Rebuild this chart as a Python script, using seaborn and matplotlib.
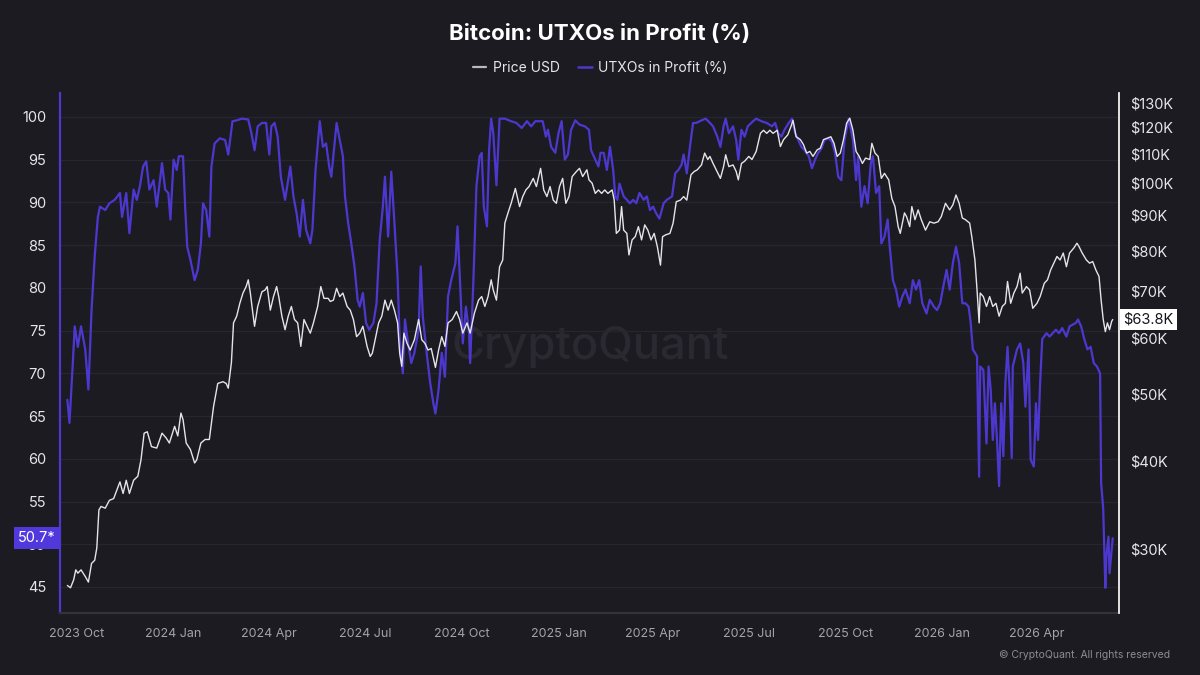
import numpy as np
import pandas as pd
import matplotlib
matplotlib.use("Agg")
import matplotlib.pyplot as plt
import matplotlib.dates as mdates
import matplotlib.transforms as mtransforms
from matplotlib.lines import Line2D
from matplotlib.ticker import FixedLocator, FixedFormatter, NullLocator
import seaborn as sns

# ---------------- data ----------------
START = "2023-10-01"  # day 0 for the offsets below

utxo_days = [
    -9, -7, -4, -2, 1, 4, 8, 11, 14, 17,
    20, 22, 27, 31, 36, 41, 43, 47, 50, 54,
    57, 60, 63, 66, 69, 73, 76, 81, 84, 87,
    89, 92, 95, 97, 101, 103, 105, 108, 112, 115,
    118, 120, 123, 126, 128, 131, 136, 141, 144, 148,
    152, 157, 163, 166, 169, 172, 176, 180, 183, 185,
    188, 191, 194, 198, 203, 206, 209, 212, 215, 218,
    222, 224, 227, 231, 234, 237, 240, 242, 247, 250,
    253, 255, 258, 261, 264, 267, 269, 272, 275, 278,
    282, 285, 288, 291, 293, 296, 299, 302, 305, 307,
    310, 312, 315, 318, 321, 325, 327, 329, 333, 336,
    339, 341, 344, 347, 350, 353, 356, 360, 362, 364,
    367, 370, 373, 374, 377, 380, 383, 385, 387, 390,
    392, 394, 396, 399, 402, 407, 413, 418, 423, 428,
    432, 436, 439, 443, 446, 448, 451, 455, 458, 461,
    464, 467, 470, 474, 478, 483, 487, 489, 493, 496,
    498, 501, 504, 507, 510, 512, 514, 516, 520, 523,
    526, 529, 532, 535, 539, 542, 545, 548, 551, 554,
    558, 561, 566, 569, 572, 575, 577, 580, 583, 586,
    589, 594, 598, 602, 605, 609, 612, 615, 617, 620,
    624, 627, 629, 632, 635, 638, 643, 646, 651, 656,
    661, 664, 667, 670, 673, 677, 680, 683, 686, 689,
    692, 696, 699, 702, 705, 708, 711, 715, 718, 721,
    724, 727, 730, 734, 738, 741, 743, 746, 749, 752,
    755, 757, 760, 763, 765, 768, 771, 773, 776, 779,
    782, 785, 788, 792, 795, 798, 801, 804, 808, 811,
    815, 818, 821, 824, 827, 830, 833, 836, 839, 842,
    845, 848, 850, 852, 856, 858, 859, 862, 865, 867,
    869, 871, 873, 875, 877, 879, 881, 883, 885, 887,
    889, 890, 894, 897, 900, 902, 905, 907, 910, 912,
    914, 916, 918, 922, 925, 928, 931, 934, 937, 941,
    944, 947, 950, 952, 955, 958, 961, 964, 967, 970,
    973, 974, 976, 978, 979, 981, 982, 985,
]
utxo_values = [
    66.9, 64.2, 70.8, 75.5, 73.1, 75.5, 72.8, 68.1, 77.4, 83.7,
    88.3, 89.5, 89.1, 89.9, 90.3, 91.1, 88.3, 91.1, 86.4, 91.5,
    90.3, 91.9, 94.2, 94.8, 91.5, 92.6, 89.5, 94.6, 91.5, 91.1,
    88.0, 95.0, 93.8, 95.4, 95.4, 89.5, 84.8, 83.3, 80.9, 82.1,
    85.2, 89.9, 89.1, 86.0, 94.2, 96.9, 97.5, 97.3, 95.6, 99.5,
    99.6, 99.8, 99.7, 98.1, 96.1, 98.9, 99.3, 99.3, 95.6, 98.9,
    99.3, 97.7, 93.0, 90.3, 94.2, 90.7, 88.7, 86.0, 90.3, 86.8,
    85.2, 86.8, 93.8, 99.5, 96.5, 96.9, 94.2, 93.0, 99.3, 97.3,
    95.4, 90.7, 87.6, 85.2, 82.5, 78.6, 77.8, 79.4, 75.9, 75.1,
    75.9, 78.2, 85.6, 89.5, 93.0, 86.0, 93.6, 87.6, 81.3, 73.9,
    70.0, 76.3, 73.5, 71.2, 72.4, 75.1, 82.5, 76.6, 72.0, 68.9,
    66.5, 65.3, 68.1, 72.4, 69.6, 79.0, 80.9, 82.9, 87.2, 81.7,
    73.5, 77.8, 74.7, 71.2, 80.5, 91.9, 95.4, 95.8, 89.5, 87.2,
    96.1, 99.8, 98.1, 92.0, 99.8, 99.8, 99.5, 99.3, 98.7, 99.5,
    98.9, 99.5, 99.5, 99.5, 97.7, 98.5, 96.5, 95.8, 98.1, 99.5,
    95.0, 95.6, 98.5, 99.6, 99.1, 98.9, 98.5, 96.1, 95.0, 94.2,
    95.8, 95.8, 93.8, 96.5, 93.8, 90.7, 90.3, 92.2, 90.7, 90.3,
    89.9, 90.3, 89.9, 91.1, 90.3, 90.7, 89.1, 89.5, 88.7, 88.1,
    89.9, 90.3, 90.7, 93.4, 93.8, 94.4, 95.6, 93.4, 96.5, 99.3,
    99.3, 99.6, 99.8, 99.3, 98.9, 97.7, 96.5, 98.9, 99.8, 98.1,
    98.9, 97.3, 95.0, 98.5, 97.7, 98.9, 99.5, 99.8, 99.5, 99.3,
    98.9, 99.3, 98.1, 97.7, 98.5, 99.3, 99.8, 98.1, 97.3, 96.5,
    96.1, 95.4, 94.0, 95.0, 95.8, 96.3, 97.3, 97.5, 97.1, 95.8,
    93.0, 92.6, 97.3, 99.8, 97.3, 92.6, 95.4, 89.5, 91.9, 89.9,
    94.6, 95.4, 91.1, 91.9, 85.2, 86.0, 88.0, 84.8, 80.9, 79.8,
    77.8, 79.0, 79.8, 78.2, 80.9, 79.8, 80.9, 78.2, 77.0, 78.6,
    77.8, 77.4, 78.2, 80.2, 82.1, 79.8, 82.9, 84.8, 82.9, 78.2,
    78.2, 77.8, 75.9, 72.8, 72.0, 57.9, 70.8, 70.4, 61.8, 70.8,
    68.1, 62.2, 66.5, 62.2, 56.8, 66.5, 60.3, 68.9, 73.1, 68.1,
    60.1, 70.8, 72.8, 73.5, 71.2, 66.1, 72.8, 59.9, 59.1, 66.5,
    62.2, 68.9, 74.0, 74.7, 74.3, 74.7, 75.1, 74.7, 75.3, 74.3,
    75.5, 75.7, 75.9, 76.3, 75.5, 74.0, 72.8, 73.1, 71.2, 70.8,
    70.0, 57.2, 54.1, 44.9, 48.6, 50.9, 46.6, 50.7,
]

price_days = [
    -9, -6, -3, -1, 1, 4, 8, 11, 14, 17,
    19, 21, 23, 27, 31, 35, 38, 41, 44, 47,
    50, 54, 58, 61, 64, 67, 71, 76, 81, 85,
    88, 93, 96, 99, 101, 104, 108, 112, 114, 118,
    122, 126, 130, 134, 139, 142, 144, 147, 149, 152,
    155, 158, 161, 163, 165, 167, 169, 172, 176, 179,
    181, 184, 187, 190, 192, 195, 198, 201, 204, 207,
    210, 213, 216, 219, 222, 225, 229, 232, 235, 239,
    241, 244, 247, 250, 253, 257, 260, 263, 266, 269,
    272, 276, 279, 281, 283, 287, 290, 293, 296, 299,
    302, 305, 307, 309, 311, 314, 317, 321, 325, 328,
    331, 334, 337, 341, 344, 347, 350, 353, 357, 361,
    364, 367, 371, 374, 378, 382, 385, 388, 391, 394,
    396, 399, 402, 405, 407, 410, 413, 417, 421, 424,
    427, 430, 434, 437, 441, 444, 447, 450, 453, 456,
    459, 462, 465, 468, 471, 475, 478, 481, 485, 487,
    490, 493, 496, 499, 502, 505, 509, 511, 513, 516,
    518, 520, 523, 525, 528, 531, 534, 537, 540, 543,
    546, 549, 552, 555, 557, 560, 564, 567, 570, 574,
    577, 580, 584, 587, 590, 594, 597, 600, 602, 605,
    608, 612, 615, 617, 620, 624, 627, 629, 632, 635,
    639, 642, 646, 650, 653, 656, 659, 662, 666, 669,
    672, 676, 679, 681, 684, 688, 691, 694, 697, 700,
    704, 707, 710, 714, 717, 720, 723, 726, 729, 732,
    735, 738, 741, 744, 747, 750, 754, 756, 759, 762,
    765, 768, 772, 775, 778, 781, 783, 787, 789, 792,
    794, 797, 800, 803, 807, 811, 815, 819, 822, 826,
    830, 833, 836, 839, 842, 845, 849, 851, 854, 856,
    858, 859, 862, 865, 868, 871, 874, 877, 880, 883,
    885, 888, 891, 894, 897, 899, 903, 906, 909, 913,
    916, 920, 923, 926, 929, 932, 935, 938, 941, 944,
    948, 951, 953, 956, 960, 963, 966, 969, 972, 974,
    976, 978, 980, 982, 984, 985,
]
price_k = [  # BTC price, thousands of USD
    26.6, 26.4, 27.1, 28.0, 27.7, 28.0, 27.4, 26.9, 28.6, 28.9,
    30.1, 34.1, 34.5, 34.3, 35.2, 35.4, 36.4, 37.4, 36.0, 37.6,
    36.0, 37.6, 38.1, 40.2, 43.9, 44.1, 42.0, 41.8, 43.9, 43.2,
    42.5, 44.9, 43.5, 46.9, 45.9, 42.5, 41.6, 39.8, 40.2, 42.5,
    43.0, 43.0, 47.9, 51.7, 52.0, 51.7, 50.9, 55.4, 63.1, 64.5,
    67.3, 69.6, 71.1, 72.7, 69.6, 65.8, 62.4, 66.6, 69.9, 70.3,
    71.1, 65.8, 68.8, 71.1, 68.8, 64.5, 61.7, 64.5, 66.6, 63.8,
    63.1, 58.4, 63.8, 62.4, 61.0, 63.1, 66.6, 71.1, 68.4, 68.4,
    67.7, 68.0, 70.7, 68.8, 69.6, 66.6, 65.8, 63.8, 60.3, 61.0,
    62.4, 58.4, 56.5, 57.1, 59.0, 63.1, 64.5, 68.0, 65.8, 68.0,
    65.8, 63.1, 57.1, 54.7, 61.0, 59.0, 57.7, 59.7, 63.8, 59.7,
    59.0, 57.7, 58.0, 54.5, 57.7, 60.3, 58.4, 63.1, 63.8, 65.5,
    63.8, 61.0, 63.1, 61.0, 65.1, 68.0, 68.8, 66.6, 68.8, 72.7,
    70.3, 68.0, 75.9, 77.6, 87.6, 90.6, 93.5, 98.2, 92.5, 95.6,
    97.7, 98.8, 101.5, 98.8, 104.9, 97.7, 95.6, 98.8, 94.5, 93.5,
    98.8, 101.5, 93.5, 95.6, 102.1, 103.8, 104.9, 102.1, 104.4, 101.0,
    99.9, 96.6, 97.7, 96.6, 97.7, 96.6, 97.7, 94.5, 84.7, 85.6,
    92.5, 85.6, 84.7, 78.9, 82.9, 83.8, 86.6, 82.9, 87.1, 85.6,
    82.9, 84.7, 81.1, 76.3, 83.8, 84.3, 84.7, 87.6, 94.0, 94.5,
    95.6, 94.5, 102.7, 103.8, 104.4, 106.1, 110.3, 108.0, 109.1, 106.6,
    104.4, 101.5, 105.5, 109.7, 105.5, 106.1, 103.8, 101.0, 106.6, 107.4,
    109.1, 108.0, 110.9, 117.7, 118.9, 117.7, 118.9, 117.7, 118.9, 112.7,
    115.3, 117.1, 120.3, 122.9, 116.4, 115.3, 113.4, 110.3, 110.9, 109.1,
    111.5, 112.1, 115.3, 115.9, 116.4, 113.9, 109.1, 110.3, 115.3, 121.7,
    123.7, 118.9, 110.9, 109.1, 106.6, 108.5, 108.0, 113.9, 110.3, 109.1,
    101.5, 103.2, 101.0, 95.0, 92.5, 86.6, 84.7, 90.6, 89.5, 86.6,
    92.5, 88.6, 91.5, 88.6, 85.6, 88.0, 87.6, 88.0, 89.5, 93.5,
    91.5, 93.0, 96.1, 93.5, 89.1, 88.6, 87.6, 83.8, 77.6, 70.3,
    63.1, 69.6, 68.8, 66.6, 68.8, 66.6, 67.3, 64.5, 66.6, 67.3,
    72.3, 67.3, 69.6, 71.1, 74.3, 69.6, 71.1, 70.3, 66.2, 67.3,
    68.8, 71.9, 72.7, 75.1, 76.8, 78.5, 77.6, 79.4, 75.9, 79.4,
    80.7, 82.0, 81.1, 79.4, 77.6, 76.8, 77.2, 75.1, 73.5, 68.0,
    63.8, 61.3, 63.1, 61.7, 63.4, 63.8,
]

left_ticks = [45, 50, 55, 60, 65, 70, 75, 80, 85, 90, 95, 100]
price_ticks_k = [30, 40, 50, 60, 70, 80, 90, 100, 110, 120, 130]
price_tick_labels = ["$30K", "$40K", "$50K", "$60K", "$70K", "$80K",
                     "$90K", "$100K", "$110K", "$120K", "$130K"]

title = "Bitcoin: UTXOs in Profit (%)"
series_price = "Price USD"
series_utxo = "UTXOs in Profit (%)"
last_utxo_label = "50.7*"
last_price_label = "$63.8K"

# ---------------- style ----------------
BG = "#1c1b22"
BLUE = "#4c38cf"
WHITE_LINE = "#e4e4ea"
TXT = "#e6e6ea"
GRID = "#27262e"

sns.set_style("dark", rc={
    "axes.facecolor": BG,
    "figure.facecolor": BG,
    "savefig.facecolor": BG,
    "text.color": TXT,
    "axes.labelcolor": TXT,
    "xtick.color": TXT,
    "ytick.color": TXT,
})
plt.rcParams["font.family"] = ["Inter", "DejaVu Sans"]

start = pd.Timestamp(START)
df_u = pd.DataFrame({"date": start + pd.to_timedelta(utxo_days, unit="D"),
                     "utxo": utxo_values})
df_p = pd.DataFrame({"date": start + pd.to_timedelta(price_days, unit="D"),
                     "price": price_k})

fig = plt.figure(figsize=(12, 6.75), dpi=100, facecolor=BG)
ax = fig.add_axes([0.05, 0.0919, 0.8825, 0.7703])
ax.set_facecolor(BG)

sns.lineplot(data=df_u, x="date", y="utxo", ax=ax, color=BLUE, lw=1.6,
             estimator=None, sort=False)
ax2 = ax.twinx()
sns.lineplot(data=df_p, x="date", y="price", ax=ax2, color=WHITE_LINE, lw=1.0,
             estimator=None, sort=False)

# x axis
ax.set_xlim(start - pd.Timedelta(days=16), start + pd.Timedelta(days=991))
ax.xaxis.set_major_locator(mdates.MonthLocator(bymonth=(1, 4, 7, 10)))
ax.xaxis.set_major_formatter(mdates.DateFormatter("%Y %b"))
ax.tick_params(axis="x", labelsize=9, labelcolor="#a3a3ad", color="#34333c",
               length=4, width=0.8, pad=7)

# left axis
ax.set_ylim(41.96, 102.8)
ax.yaxis.set_major_locator(FixedLocator(left_ticks))
ax.tick_params(axis="y", labelsize=10.5, labelcolor=TXT, length=0, pad=10)
ax.yaxis.grid(True, color=GRID, lw=0.9)
ax.xaxis.grid(False)
ax.set_xlabel("")
ax.set_ylabel("")

# right axis (log)
ax2.set_yscale("log")
ax2.set_ylim(24.3, 134.4)
ax2.yaxis.set_major_locator(FixedLocator(price_ticks_k))
ax2.yaxis.set_major_formatter(FixedFormatter(price_tick_labels))
ax2.yaxis.set_minor_locator(NullLocator())
ax2.tick_params(axis="y", which="both", labelsize=10.5, labelcolor=TXT,
                length=0, pad=8)
ax2.grid(False)
ax2.set_ylabel("")
ax2.set_xlabel("")

# spines
for s in ["top", "right"]:
    ax.spines[s].set_visible(False)
ax.spines["left"].set_color(BLUE)
ax.spines["left"].set_linewidth(1.6)
ax.spines["bottom"].set_color("#34333c")
ax.spines["bottom"].set_linewidth(1.5)
for s in ["top", "left", "bottom"]:
    ax2.spines[s].set_visible(False)
ax2.spines["right"].set_color("#f2f2f2")
ax2.spines["right"].set_linewidth(1.3)

# last-value labels
trans_l = mtransforms.blended_transform_factory(ax.transAxes, ax.transData)
ax.text(-0.004, utxo_values[-1], last_utxo_label, transform=trans_l,
        ha="right", va="center", fontsize=10.5, color="white", zorder=10,
        clip_on=False,
        bbox=dict(boxstyle="square,pad=0.28", fc="#5038dc", ec="none"))
trans_r = mtransforms.blended_transform_factory(ax2.transAxes, ax2.transData)
ax2.text(1.004, price_k[-1], last_price_label, transform=trans_r,
         ha="left", va="center", fontsize=10.5, color="#15141a", zorder=10,
         clip_on=False,
         bbox=dict(boxstyle="square,pad=0.22", fc="white", ec="none"))

# watermark
ax.text(0.4917, 0.486, "CryptoQuant", transform=fig.transFigure,
        ha="center", va="center", fontsize=32.5, color="#2a2932",
        fontweight="medium", zorder=0.5)

# title & legend
fig.text(0.5, 0.949, title, ha="center", va="center", fontsize=16,
         fontweight="bold", color="white")
handles = [Line2D([], [], color="#b9b9c2", lw=1.6),
           Line2D([], [], color=BLUE, lw=1.8)]
leg = fig.legend(handles, [series_price, series_utxo], loc="center",
                 bbox_to_anchor=(0.5, 0.899), ncol=2, frameon=False,
                 fontsize=10, handlelength=1.0, handletextpad=0.45,
                 columnspacing=1.3, labelcolor=TXT)

fig.text(0.975, 0.030, "© CryptoQuant. All rights reserved", ha="right",
         va="center", fontsize=7.5, color="#8c8c96")

fig.savefig("out.png", dpi=100, facecolor=BG)
